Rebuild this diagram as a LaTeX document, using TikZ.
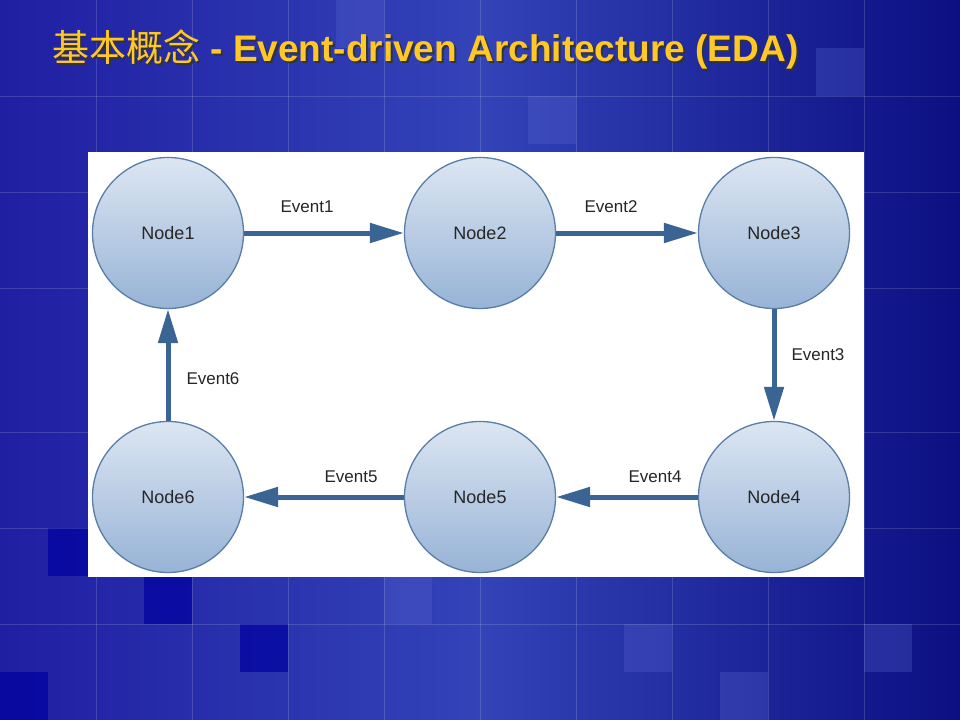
\documentclass[tikz,border=0pt]{standalone}
\usepackage{fontspec}
\setmainfont{Liberation Sans}
\newfontfamily\cjk{Noto Sans CJK SC}
\usepackage{tikz}
\usetikzlibrary{arrows.meta,shapes}

\definecolor{bgleft}{HTML}{1F1FA2}
\definecolor{bgmid}{HTML}{3343B8}
\definecolor{bgright}{HTML}{0B0F82}
\definecolor{bgdark}{HTML}{0000A0}
\definecolor{bglight}{HTML}{5A66D0}
\definecolor{titleyellow}{HTML}{FFC829}
\definecolor{nodetop}{HTML}{DCE6F2}
\definecolor{nodebottom}{HTML}{97B3D6}
\definecolor{nodeborder}{HTML}{5A7EA8}
\definecolor{eventblue}{HTML}{3A6493}

\tikzset{
        eda/.style={draw=nodeborder,line width=1.3bp,circle,minimum size=151bp,inner sep=0pt,top color=nodetop,bottom color=nodebottom,font=\fontsize{18bp}{20bp}\selectfont,text=black!85},
        event/.style={draw=eventblue,line width=5bp,-{Triangle[length=34bp,width=19bp]}},
        eventlabel/.style={font=\fontsize{17bp}{19bp}\selectfont,text=black!85},
        titletext/.style={anchor=base west,inner sep=0pt,font=\fontsize{37bp}{40bp}\selectfont\bfseries}
}

\begin{document}
\begin{tikzpicture}[x=1bp,y=-1bp]
        \useasboundingbox (0,0) rectangle (960,720);
        \shade[left color=bgleft,right color=bgright,middle color=bgmid] (0,0) rectangle (960,720);

        \foreach \x/\y in {48/528,144/576,240/624,0/672}
            \fill[bgdark,opacity=0.7] (\x,\y) rectangle ++(48,48);
        \foreach \x/\y in {528/96,816/48,384/576,624/624,720/672,864/624,336/0}
            \fill[bglight,opacity=0.3] (\x,\y) rectangle ++(48,48);

        \foreach \x in {96,192,...,864}
            \draw[white,opacity=0.15,line width=0.8bp] (\x,0) -- (\x,720);
        \foreach \y in {96,192,288,432,528,624}
            \draw[white,opacity=0.15,line width=0.8bp] (0,\y) -- (960,\y);

        \node[titletext,text=black!80] (titleshadow) at (54,64) {{\cjk\mdseries 基本概念} - Event-driven Architecture (EDA)};
        \node[titletext,text=titleyellow] (title) at (52,62) {{\cjk\mdseries 基本概念} - Event-driven Architecture (EDA)};

        \fill[white] (88,152) rectangle (864,577);

        \node[eda] (node1) at (168,233) {Node1};
        \node[eda] (node2) at (480,233) {Node2};
        \node[eda] (node3) at (774,233) {Node3};
        \node[eda] (node4) at (774,497) {Node4};
        \node[eda] (node5) at (480,497) {Node5};
        \node[eda] (node6) at (168,497) {Node6};

        \draw[event] (node1) -- (node2);
        \draw[event] (node2) -- (node3);
        \draw[event] (node3) -- (node4);
        \draw[event] (node4) -- (node5);
        \draw[event] (node5) -- (node6);
        \draw[event] (node6) -- (node1);

        \node[eventlabel] (event1) at (307,207) {Event1};
        \node[eventlabel] (event2) at (611,207) {Event2};
        \node[eventlabel,anchor=west] (event3) at (788,355) {Event3};
        \node[eventlabel] (event4) at (655,477) {Event4};
        \node[eventlabel] (event5) at (351,477) {Event5};
        \node[eventlabel,anchor=west] (event6) at (183,379) {Event6};
\end{tikzpicture}
\end{document}
